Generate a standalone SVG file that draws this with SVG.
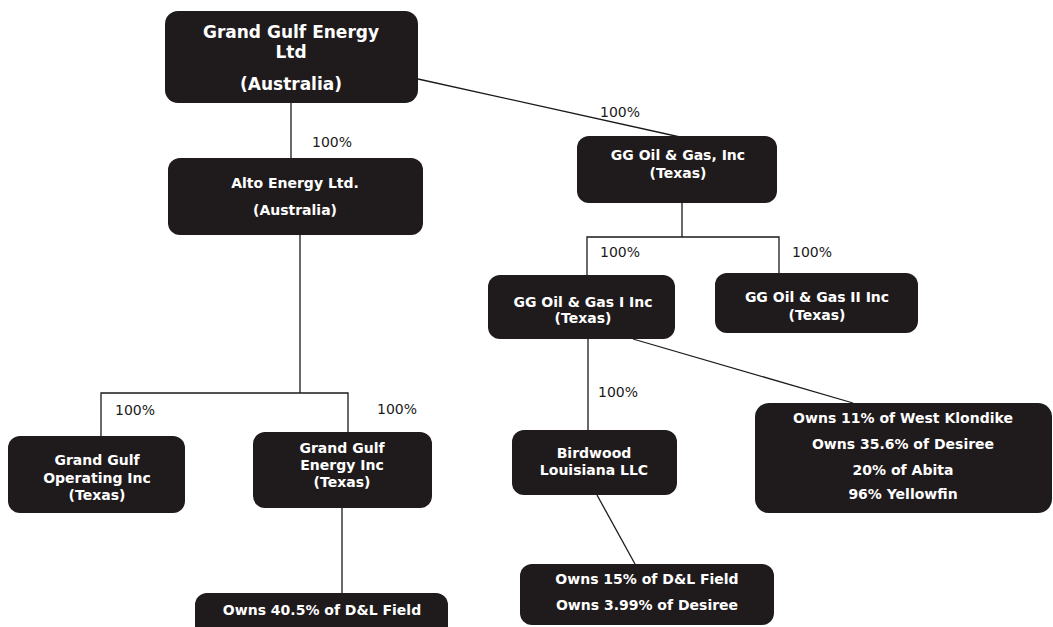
<svg xmlns="http://www.w3.org/2000/svg" width="1053" height="627" viewBox="0 0 1053 627">
<style>
.box{fill:#1f1b1c}
.t{font-family:"DejaVu Sans","Liberation Sans",sans-serif;font-weight:bold;font-size:14px;fill:#ffffff;text-anchor:middle}
.big{font-size:17px}
.lbl{font-family:"DejaVu Sans","Liberation Sans",sans-serif;font-size:14px;fill:#1a1a1a}
.c{stroke:#1a1a1a;stroke-width:1.3;fill:none}
</style>
<rect width="1053" height="627" fill="#ffffff"/>
<g id="connectors">
<path class="c" d="M291 103V158"/>
<path class="c" d="M300 235V393M101 436V393H348V432"/>
<path class="c" d="M342 508V593"/>
<path class="c" d="M418 79L680 137"/>
<path class="c" d="M682 203V237M587 275V237H779V273"/>
<path class="c" d="M588 339V430"/>
<path class="c" d="M633 339L853 403"/>
<path class="c" d="M597 495L635 564"/>
<text class="lbl" x="312" y="147">100%</text>
<text class="lbl" x="115" y="415">100%</text>
<text class="lbl" x="377" y="414">100%</text>
<text class="lbl" x="600" y="117">100%</text>
<text class="lbl" x="600" y="257">100%</text>
<text class="lbl" x="792" y="257">100%</text>
<text class="lbl" x="598" y="397">100%</text>
</g>
<g id="grand-gulf-energy-ltd">
<rect class="box" x="165" y="11" width="253" height="92" rx="13"/>
<text class="t big" x="291" y="38">Grand Gulf Energy</text>
<text class="t big" x="291" y="58">Ltd</text>
<text class="t big" x="291" y="90">(Australia)</text>
</g>
<g id="alto-energy">
<rect class="box" x="168" y="158" width="255" height="77" rx="12"/>
<text class="t" x="295" y="188">Alto Energy Ltd.</text>
<text class="t" x="295" y="215">(Australia)</text>
</g>
<g id="grand-gulf-operating">
<rect class="box" x="8" y="436" width="177" height="77" rx="12"/>
<text class="t" x="97" y="465">Grand Gulf</text>
<text class="t" x="97" y="483">Operating Inc</text>
<text class="t" x="97" y="500">(Texas)</text>
</g>
<g id="grand-gulf-energy-inc">
<rect class="box" x="253" y="432" width="179" height="76" rx="12"/>
<text class="t" x="342" y="453">Grand Gulf</text>
<text class="t" x="342" y="470">Energy Inc</text>
<text class="t" x="342" y="487">(Texas)</text>
</g>
<g id="dl-field-40">
<rect class="box" x="195" y="593" width="253" height="50" rx="12"/>
<text class="t" x="322" y="615">Owns 40.5% of D&amp;L Field</text>
</g>
<g id="gg-oil-gas">
<rect class="box" x="577" y="136" width="200" height="67" rx="12"/>
<text class="t" x="678" y="160">GG Oil &amp; Gas, Inc</text>
<text class="t" x="678" y="178">(Texas)</text>
</g>
<g id="gg-oil-gas-i">
<rect class="box" x="488" y="275" width="187" height="64" rx="12"/>
<text class="t" x="583" y="307">GG Oil &amp; Gas I Inc</text>
<text class="t" x="583" y="323">(Texas)</text>
</g>
<g id="gg-oil-gas-ii">
<rect class="box" x="715" y="273" width="203" height="60" rx="12"/>
<text class="t" x="817" y="302">GG Oil &amp; Gas II Inc</text>
<text class="t" x="817" y="320">(Texas)</text>
</g>
<g id="birdwood">
<rect class="box" x="512" y="430" width="165" height="65" rx="12"/>
<text class="t" x="594" y="458">Birdwood</text>
<text class="t" x="594" y="475">Louisiana LLC</text>
</g>
<g id="birdwood-holdings">
<rect class="box" x="520" y="564" width="254" height="61" rx="12"/>
<text class="t" x="647" y="584">Owns 15% of D&amp;L Field</text>
<text class="t" x="647" y="610">Owns 3.99% of Desiree</text>
</g>
<g id="gg-i-holdings">
<rect class="box" x="755" y="403" width="297" height="110" rx="14"/>
<text class="t" x="903" y="423">Owns 11% of West Klondike</text>
<text class="t" x="903" y="449">Owns 35.6% of Desiree</text>
<text class="t" x="903" y="475">20% of Abita</text>
<text class="t" x="903" y="499">96% Yellowfin</text>
</g>
</svg>
